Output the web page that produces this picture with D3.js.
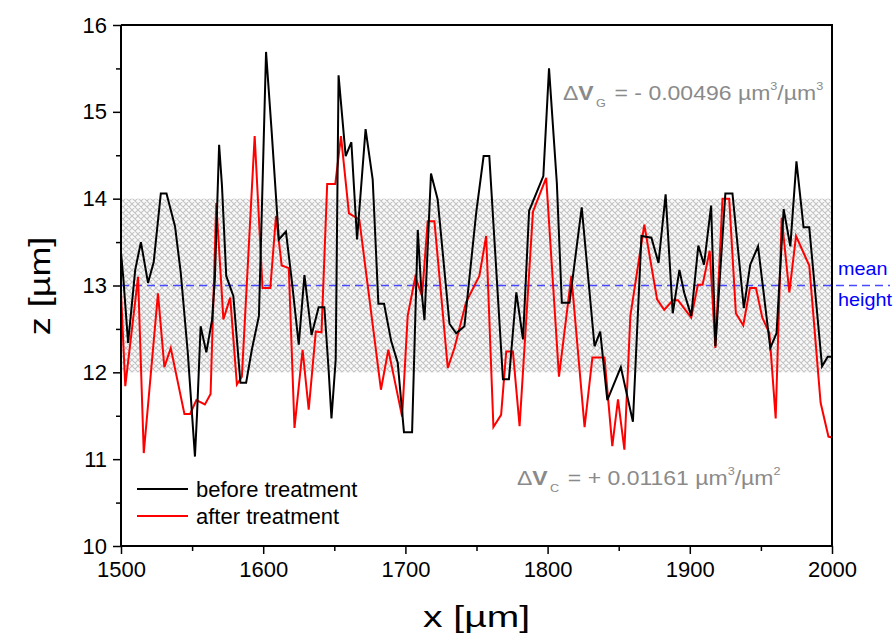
<!DOCTYPE html>
<html><head><meta charset="utf-8">
<script src="https://cdn.jsdelivr.net/npm/d3@7"></script>
<style>body{margin:0;background:#fff}svg{display:block;font-family:"Liberation Sans",Arial,sans-serif}</style>
</head><body>
<script>
// ---- data ----
const beforeX = [1500,1501.6,1505,1510,1514,1519,1523,1528,1532,1538,1542,1547,1552,1553.5,1556,1560,1564,1566,1569,1571,1574,1579,1584,1588,1592,1597,1599,1602,1606,1611,1616,1620,1625,1629,1634,1639,1643,1646,1648,1651,1653,1658,1662,1666,1672,1677,1681,1685,1690,1694.6,1699,1704.7,1708.7,1711,1713.4,1718,1722.7,1731,1735.7,1741.5,1749.8,1755,1759,1768.6,1772.8,1778,1782.7,1787,1797,1801,1806.5,1810,1815.4,1824,1833,1837,1842,1851.5,1860,1866,1873,1878,1883,1888,1892.7,1896,1901,1906,1910,1915,1918,1925,1930,1938,1942.5,1948,1956.6,1961,1966,1970.7,1975,1980,1984,1993,1997,2000];
const beforeZ = [13.38,13.09,12.34,13.18,13.5,13.03,13.27,14.06,14.06,13.68,13.15,12.22,11.03,11.53,12.53,12.23,12.6,13.07,14.62,14.15,13.11,12.88,11.88,11.88,12.26,12.65,13.84,15.69,14.76,13.53,13.62,13.07,12.32,13.12,12.43,12.75,12.75,12.03,11.47,12.15,15.42,14.49,14.65,13.53,14.8,14.22,12.79,12.79,12.36,12.11,11.31,11.31,13.64,13.0,12.6,14.29,13.99,12.56,12.45,12.53,13.84,14.49,14.49,11.92,11.92,12.92,12.38,13.86,14.26,15.5,14.18,12.8,12.8,13.9,12.3,12.47,11.68,12.06,11.43,13.57,13.55,13.26,14.05,12.68,13.18,12.92,12.65,13.46,13.24,13.92,12.3,14.06,14.06,12.74,13.24,13.45,12.28,12.45,13.88,13.45,14.43,13.67,13.67,12.07,12.18,12.18];
const afterX = [1500,1503,1512,1516,1526,1530.5,1535,1544.6,1548.6,1553,1559,1563,1567,1572,1576.8,1581.5,1585,1594,1599.5,1605,1609,1613,1618,1622,1627.7,1632,1637,1641,1645,1650.7,1654.7,1660.3,1667.6,1682.8,1688,1697.7,1701.6,1707,1711.7,1715.7,1720.4,1729.8,1734.5,1742.7,1752,1756.8,1761.9,1767.3,1770.9,1775.6,1780.3,1789.7,1799,1808,1816.7,1826,1831.5,1840,1845.5,1849.5,1854,1858.2,1868,1877,1882,1888,1891.7,1901,1905.7,1909,1914,1918,1923,1927.7,1932.4,1937.6,1942.3,1946.5,1951,1956,1960.4,1964.6,1970,1974.7,1984,1992,1997.5,2000];
const afterZ = [12.92,11.84,13.1,11.07,12.91,12.06,12.28,11.52,11.52,11.68,11.63,11.75,13.95,12.61,12.86,11.86,11.95,14.72,12.97,12.97,13.8,13.23,13.2,11.36,12.26,11.57,12.47,12.46,14.17,14.17,14.72,13.83,13.76,11.8,12.26,11.49,12.65,13.1,12.88,13.74,13.74,12.05,12.28,12.81,13.11,13.57,11.37,11.51,12.24,12.24,11.38,13.85,14.24,11.95,13.11,11.37,12.17,12.17,11.15,11.69,11.11,12.65,13.7,12.84,12.72,12.83,12.83,12.63,13.01,13.01,13.4,12.28,14.0,14.0,12.68,12.54,12.97,12.97,12.63,12.45,11.47,13.78,12.92,13.57,13.23,11.65,11.26,11.25];
const xTicks = [1500,1600,1700,1800,1900,2000];
const yTicks = [10,11,12,13,14,15,16];
const band = [12,14];
const meanHeight = 13;
const seriesNames = ["before treatment","after treatment"];
const seriesColors = ["#000000","#ff0000"];

// ---- layout ----
const W = 896, H = 641;
const L = 121, R = 832, T = 25, B = 546;
const svg = d3.select("body").append("svg").attr("width", W).attr("height", H);
const x = d3.scaleLinear().domain([1500,2000]).range([L,R]);
const y = d3.scaleLinear().domain([10,16]).range([B,T]);

const defs = svg.append("defs");
const pat = defs.append("pattern").attr("id","hatch").attr("patternUnits","userSpaceOnUse")
  .attr("width",6).attr("height",6);
pat.append("rect").attr("width",6).attr("height",6).attr("fill","#fafafa");
pat.append("path").attr("d","M0,0L6,6M6,0L0,6M-1,5L1,7M5,-1L7,1M-1,1L1,-1M5,7L7,5").attr("stroke","#c4c4c4").attr("stroke-width",1.1);
defs.append("clipPath").attr("id","clip").append("rect").attr("x",L).attr("y",T).attr("width",R-L).attr("height",B-T);

// band
svg.append("rect").attr("x",L).attr("width",R-L).attr("y",y(band[1])).attr("height",y(band[0])-y(band[1]))
  .attr("fill","url(#hatch)");

// mean line
svg.append("line").attr("x1",L).attr("x2",890).attr("y1",y(meanHeight)).attr("y2",y(meanHeight))
  .attr("stroke","#4a4aff").attr("stroke-width",1.3).attr("stroke-dasharray","8,5");

// lines
const line = d3.line().x(d=>x(d[0])).y(d=>y(d[1]));
const g = svg.append("g").attr("clip-path","url(#clip)");
g.append("path").datum(afterX.map((v,i)=>[v,afterZ[i]])).attr("d",line)
  .attr("fill","none").attr("stroke",seriesColors[1]).attr("stroke-width",2);
g.append("path").datum(beforeX.map((v,i)=>[v,beforeZ[i]])).attr("d",line)
  .attr("fill","none").attr("stroke",seriesColors[0]).attr("stroke-width",2);

// frame
svg.append("line").attr("x1",L).attr("x2",R+1).attr("y1",T).attr("y2",T).attr("stroke","#000").attr("stroke-width",2);
svg.append("line").attr("x1",R).attr("x2",R).attr("y1",T).attr("y2",B).attr("stroke","#000").attr("stroke-width",2);

// axes
const xAxis = svg.append("g").attr("transform",`translate(0,${B})`)
  .call(d3.axisBottom(x).tickValues(xTicks).tickFormat(d3.format("d")).tickSize(8).tickPadding(7));
svg.append("g").attr("transform",`translate(0,${B})`)
  .call(d3.axisBottom(x).tickValues(d3.range(1550,2000,100)).tickFormat("").tickSize(5))
  .call(s=>s.select(".domain").remove());
const yAxis = svg.append("g").attr("transform",`translate(${L},0)`)
  .call(d3.axisLeft(y).tickValues(yTicks).tickFormat(d3.format("d")).tickSize(8).tickPadding(6));
svg.append("g").attr("transform",`translate(${L},0)`)
  .call(d3.axisLeft(y).tickValues(d3.range(10.5,16,1)).tickFormat("").tickSize(5))
  .call(s=>s.select(".domain").remove());
svg.selectAll(".domain").attr("stroke-width",2);
xAxis.select(".domain").attr("d",`M${L},0H${R}`);
yAxis.select(".domain").attr("d",`M0,${B}V${T}`);
svg.selectAll(".tick line").attr("stroke-width",1.5);
svg.selectAll(".tick text").attr("font-size",22).attr("font-family","Liberation Sans, Arial, sans-serif").attr("fill","#000");

// axis titles
svg.append("text").attr("transform",`translate(${(L+R)/2},627) scale(1.3,1)`).attr("text-anchor","middle")
  .attr("font-size",30).text("x [µm]");
svg.append("text").attr("transform",`translate(50,286) rotate(-90) scale(1.2,1)`).attr("text-anchor","middle")
  .attr("font-size",30).text("z [µm]");

// legend
const leg = svg.append("g");
seriesNames.forEach((n,i)=>{
  const yy = 489 + i*27;
  leg.append("line").attr("x1",137).attr("x2",188).attr("y1",yy).attr("y2",yy)
    .attr("stroke",seriesColors[i]).attr("stroke-width",2);
  leg.append("text").attr("x",196).attr("y",yy+8).attr("font-size",22).text(n);
});

// annotations
function annot(xp, yp, sub, rest1, sup1, rest2, sup2){
  const t = svg.append("text").attr("transform",`translate(${xp},${yp}) scale(1.15,1)`)
    .attr("font-size",20).attr("fill","#8a8a8a");
  t.append("tspan").text("Δ");
  t.append("tspan").attr("font-weight","bold").text("V");
  t.append("tspan").attr("font-size",11).attr("dx",2).attr("dy",7).text(sub);
  t.append("tspan").attr("dx",2).attr("dy",-7).text(rest1);
  t.append("tspan").attr("font-size",11).attr("dy",-10).text(sup1);
  t.append("tspan").attr("dy",10).text(rest2);
  t.append("tspan").attr("font-size",11).attr("dy",-10).text(sup2);
}
annot(563, 100, "G", " = - 0.00496 µm", "3", "/µm", "3");
annot(517, 485, "C", " = + 0.01161 µm", "3", "/µm", "2");

svg.append("text").attr("transform","translate(838,275) scale(1.1,1)").attr("font-size",18).attr("fill","#0000ff").text("mean");
svg.append("text").attr("transform","translate(838,306) scale(1.1,1)").attr("font-size",18).attr("fill","#0000ff").text("height");
</script>
</body></html>
